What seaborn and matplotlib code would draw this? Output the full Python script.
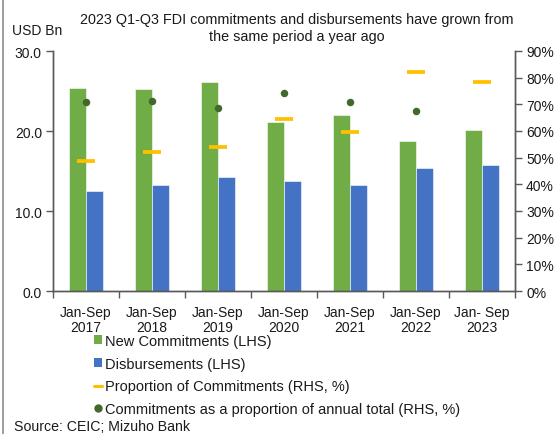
import matplotlib
matplotlib.use("Agg")
import matplotlib.pyplot as plt
import seaborn as sns
import numpy as np
import pandas as pd
from matplotlib.lines import Line2D
from matplotlib.patches import Patch
from matplotlib.ticker import FixedLocator, PercentFormatter

# ---- data ----
categories = ["Jan-Sep\n2017", "Jan-Sep\n2018", "Jan-Sep\n2019", "Jan-Sep\n2020",
              "Jan-Sep\n2021", "Jan-Sep\n2022", "Jan- Sep\n2023"]
new_commitments = [25.4, 25.3, 26.1, 21.1, 22.0, 18.7, 20.1]
disbursements = [12.5, 13.2, 14.2, 13.7, 13.2, 15.4, 15.8]
proportion_commitments = [48.9, 52.0, 54.1, 64.6, 59.7, 82.0, 78.5]
share_of_annual = [70.7, 71.2, 68.5, 74.1, 70.7, 67.4, np.nan]

series_names = ["New Commitments (LHS)", "Disbursements (LHS)",
                "Proportion of Commitments (RHS, %)",
                "Commitments as a proportion of annual total (RHS, %)"]
title = "2023 Q1-Q3 FDI commitments and disbursements have grown from\nthe same period a year ago"
source = "Source: CEIC; Mizuho Bank"

GREEN = "#70AD47"
BLUE = "#4472C4"
YELLOW = "#FFC000"
DKGREEN = "#43682B"
TXT = "#1a1a1a"
SPINE = "#595959"

sns.set_theme(style="white")
plt.rcParams["font.family"] = ["Liberation Sans", "DejaVu Sans"]
plt.rcParams["font.size"] = 10

bars = pd.DataFrame({
    "period": categories * 2,
    "value": new_commitments + disbursements,
    "series": [series_names[0]] * len(categories) + [series_names[1]] * len(categories),
})
rhs = pd.DataFrame({"period": categories, "prop": proportion_commitments, "share": share_of_annual})

fig = plt.figure(figsize=(5.59, 4.35), dpi=100)
ax = fig.add_axes([53 / 559, 1 - 292 / 435, (515 - 53) / 559, (292 - 52) / 435])

sns.barplot(data=bars, x="period", y="value", hue="series", order=categories,
            hue_order=series_names[:2], palette=[GREEN, BLUE], saturation=1,
            width=0.53, gap=0, edgecolor="white", linewidth=0.4, ax=ax, legend=False)
ax.set_ylim(0, 30)
ax.set_xlim(-0.5, len(categories) - 0.5)
ax.set_yticks([0, 10, 20, 30])
ax.set_yticklabels(["0.0", "10.0", "20.0", "30.0"])
ax.set_xlabel("")
ax.set_ylabel("")

ax2 = ax.twinx()
sns.pointplot(data=rhs, x="period", y="prop", order=categories, errorbar=None,
              linestyle="none", marker="_", markersize=13, markeredgewidth=2.7,
              color=YELLOW, ax=ax2)
sns.pointplot(data=rhs, x="period", y="share", order=categories, errorbar=None,
              linestyle="none", marker="o", markersize=5.4, markeredgewidth=0,
              color=DKGREEN, ax=ax2)
ax2.set_ylim(0, 90)
ax2.set_xlim(-0.5, len(categories) - 0.5)
ax2.set_yticks(np.arange(0, 91, 10))
ax2.yaxis.set_major_formatter(PercentFormatter(decimals=0))
ax2.set_ylabel("")
ax2.set_xlabel("")

for a in (ax, ax2):
    for s in a.spines.values():
        s.set_color(SPINE)
        s.set_linewidth(1.0)
    a.spines["top"].set_visible(False)
    a.grid(False)

ax.set_xticks(range(len(categories)))
ax.set_xticklabels(categories)
ax.xaxis.set_minor_locator(FixedLocator(np.arange(-0.5, len(categories), 1.0)))
ax.tick_params(axis="x", which="major", length=0, pad=10, labelsize=10, labelcolor=TXT)
ax.tick_params(axis="x", which="minor", length=5, width=1, color=SPINE, direction="out", bottom=True)
ax.tick_params(axis="y", length=5, width=1, color=SPINE, direction="out", left=True,
               labelsize=10, labelcolor=TXT, pad=3)
ax2.tick_params(axis="y", length=5, width=1, color=SPINE, direction="out", right=True,
                labelsize=10, labelcolor=TXT, pad=3)
ax2.tick_params(axis="x", which="both", length=0, labelbottom=False)
for lab in ax.get_xticklabels():
    lab.set_linespacing(1.1)

fig.text(297 / 559, 1 - 28.5 / 435, title, ha="center", va="center", fontsize=10.4,
         color=TXT, linespacing=1.2)
fig.text(12 / 559, 1 - 31 / 435, "USD Bn", ha="left", va="center", fontsize=10, color=TXT)
fig.text(14 / 559, 1 - 427 / 435, source, ha="left", va="center", fontsize=10.2, color=TXT)

handles = [
    Patch(facecolor=GREEN, edgecolor="none"),
    Patch(facecolor=BLUE, edgecolor="none"),
    Line2D([], [], color=YELLOW, linewidth=2.2),
    Line2D([], [], color=DKGREEN, marker="o", linestyle="none", markersize=5),
]
leg = fig.legend(handles, series_names, loc="upper left",
                 bbox_to_anchor=(94 / 559, 1 - 335 / 435), frameon=False,
                 fontsize=10.5, handlelength=0.55, handleheight=0.55, handletextpad=0.2,
                 labelspacing=0.6, borderpad=0, borderaxespad=0)
for t in leg.get_texts():
    t.set_color(TXT)

# left border line of the original frame
fig.add_artist(Line2D([2.5 / 559, 2.5 / 559], [0, 1], transform=fig.transFigure,
                      color="#8c8c8c", linewidth=1.2))

fig.savefig("out.png", dpi=100)
